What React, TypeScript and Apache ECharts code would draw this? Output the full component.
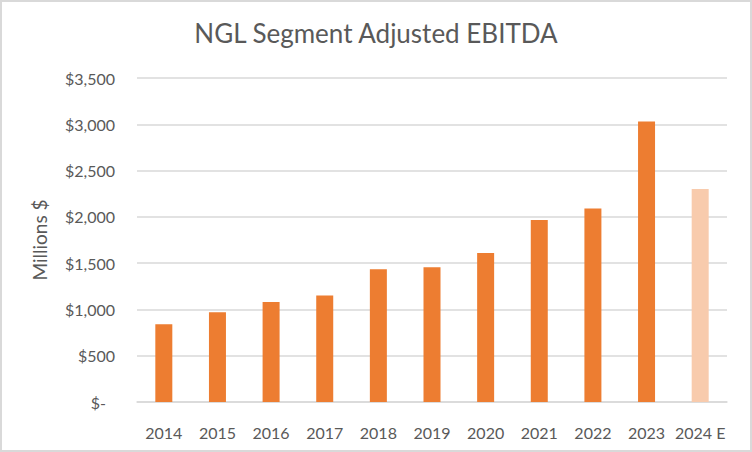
import React, { useEffect, useRef } from "react";
import * as echarts from "echarts";

const categories = ["2014", "2015", "2016", "2017", "2018", "2019", "2020", "2021", "2022", "2023", "2024 E"];
const ebitdaValues = [840, 970, 1080, 1150, 1435, 1455, 1610, 1965, 2090, 3030, 2300];
const estimateFlags = [false, false, false, false, false, false, false, false, false, false, true];
const yTicks = [0, 500, 1000, 1500, 2000, 2500, 3000, 3500];

export default function App() {
  const ref = useRef<HTMLDivElement>(null);
  useEffect(() => {
    document.body.style.margin = "0";
    if (!ref.current) return;
    const chart = echarts.init(ref.current, undefined, { renderer: "svg" });
    const font = "Lato, 'Open Sans', sans-serif";
    chart.setOption({
      animation: false,
      backgroundColor: "#FFFFFF",
      textStyle: { fontFamily: font },
      title: {
        text: "NGL Segment Adjusted EBITDA",
        left: "center",
        top: 15,
        textStyle: { fontFamily: font, fontSize: 26, fontWeight: "normal", color: "#595959" },
      },
      graphic: [
        {
          type: "rect",
          shape: { x: 1, y: 1, width: 750, height: 450 },
          style: { fill: "none", stroke: "#D9D9D9", lineWidth: 2 },
          silent: true,
        },
      ],
      grid: { left: 137, right: 25, top: 78, bottom: 50 },
      xAxis: {
        type: "category",
        data: categories,
        axisTick: { show: false },
        axisLine: { lineStyle: { color: "#D9D9D9", width: 1.5 } },
        axisLabel: { color: "#595959", fontSize: 16, margin: 22, interval: 0, fontFamily: font },
      },
      yAxis: {
        type: "value",
        min: 0,
        max: yTicks[yTicks.length - 1],
        interval: 500,
        name: "Millions $",
        nameLocation: "middle",
        nameGap: 88,
        nameRotate: 90,
        nameTextStyle: { color: "#595959", fontSize: 19, fontFamily: font },
        axisLine: { show: false },
        axisTick: { show: false },
        splitLine: { lineStyle: { color: "#D9D9D9", width: 1.5 } },
        axisLabel: {
          color: "#595959",
          fontSize: 16,
          margin: 22,
          fontFamily: font,
          formatter: (v: number) => (v === 0 ? "{zero|$-}" : "$" + v.toLocaleString("en-US")),
          rich: { zero: { padding: [0, 9, 0, 0], color: "#595959", fontSize: 16, fontFamily: font } },
        },
      },
      series: [
        {
          type: "bar",
          barWidth: 17,
          data: ebitdaValues.map((v, i) => ({
            value: v,
            itemStyle: { color: estimateFlags[i] ? "#F8CBAD" : "#ED7D31" },
          })),
        },
      ],
    });
    return () => chart.dispose();
  }, []);
  return <div ref={ref} style={{ width: 752, height: 452 }} />;
}
